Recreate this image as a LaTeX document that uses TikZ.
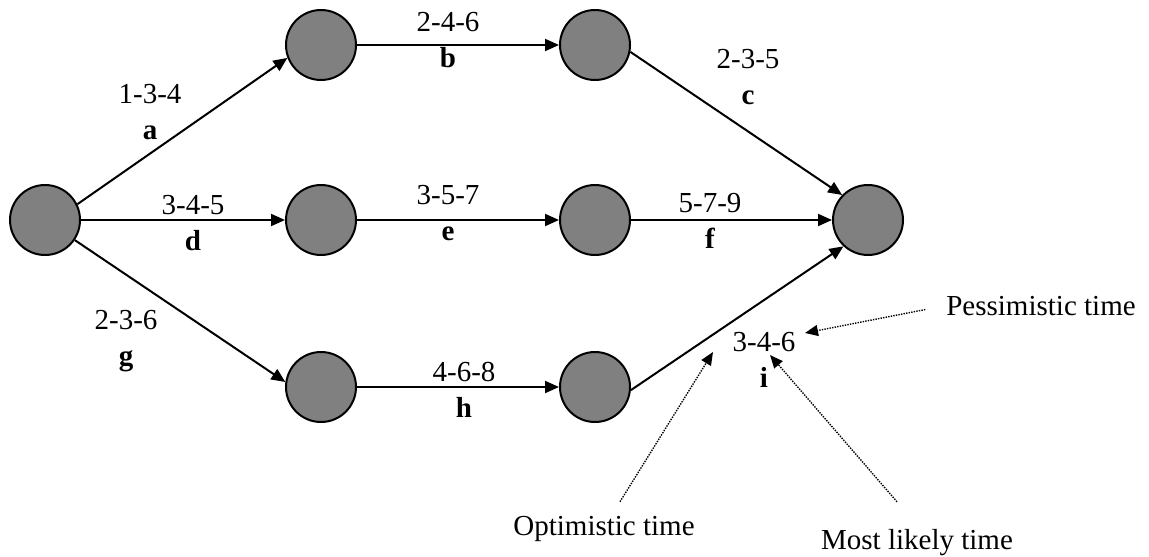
\documentclass[tikz,border=0pt]{standalone}
\usepackage{fontspec}
\setmainfont{Liberation Serif}
\usetikzlibrary{arrows.meta}

\tikzset{
  event/.style={circle, draw, line width=1pt, fill=black!50, minimum size=35pt, inner sep=0pt},
  act/.style={line width=1pt, -{Triangle[length=7pt,width=6pt]}},
  hint/.style={line width=0.7pt, dash pattern=on 0.7pt off 0.6pt, -{Triangle[length=6.5pt,width=5.5pt]}},
  lbl/.style={align=center, font=\fontsize{14.5}{18}\selectfont, inner sep=0pt},
  note/.style={font=\fontsize{14.5}{18}\selectfont, anchor=base},
}

\begin{document}
\begin{tikzpicture}[x=0.5pt,y=-0.5pt]
\useasboundingbox (0,0) rectangle (1149,556);
% events
\node[event] (s)  at (45,220)  {};
\node[event] (t1) at (321,45)  {};
\node[event] (t2) at (595,45)  {};
\node[event] (m1) at (321,220) {};
\node[event] (m2) at (595,220) {};
\node[event] (b1) at (321,387) {};
\node[event] (b2) at (595,387) {};
\node[event] (e)  at (868,220) {};
% activities
\draw[act] (s.26) -- (t1.201);
\draw[act] (s) -- (m1);
\draw[act] (s.-34) -- (b1.172);
\draw[act] (t1) -- (t2);
\draw[act] (m1) -- (m2);
\draw[act] (b1) -- (b2);
\draw[act] (t2.-11) -- (e.136);
\draw[act] (m2) -- (e);
\draw[act] (b2.-5) -- (e.-133);
% times
\node[lbl] (la) at (150,112) {1-3-4\\\textbf{a}};
\node[lbl] (lb) at (448,40)  {2-4-6\\\textbf{b}};
\node[lbl] (lc) at (748,77)  {2-3-5\\\textbf{c}};
\node[lbl] (ld) at (193,223) {3-4-5\\\textbf{d}};
\node[lbl] (le) at (448,213) {3-5-7\\\textbf{e}};
\node[lbl] (lf) at (710,221) {5-7-9\\\textbf{f}};
\node[lbl] (lg) at (126,341) {2-3-6\\\textbf{g}};
\node[lbl] (lh) at (464,390) {4-6-8\\\textbf{h}};
\node[lbl] (li) at (764,360) {3-4-6\\\textbf{i}};
% estimates
\node[note] (pes) at (1041,315) {Pessimistic time};
\node[note] (opt) at (604,535)  {Optimistic time};
\node[note] (ml)  at (917,549)  {Most likely time};
\coordinate (pt) at (805,333);
\coordinate (ot) at (713,352);
\coordinate (mt) at (770,355);
\draw[hint] ([xshift=-7pt,yshift=-2pt]pes.west) -- (pt);
\draw[hint] ([xshift=8pt,yshift=3.5pt]opt.north) -- (ot);
\draw[hint] ([xshift=-10pt,yshift=10pt]ml.north) -- (mt);
\end{tikzpicture}
\end{document}
